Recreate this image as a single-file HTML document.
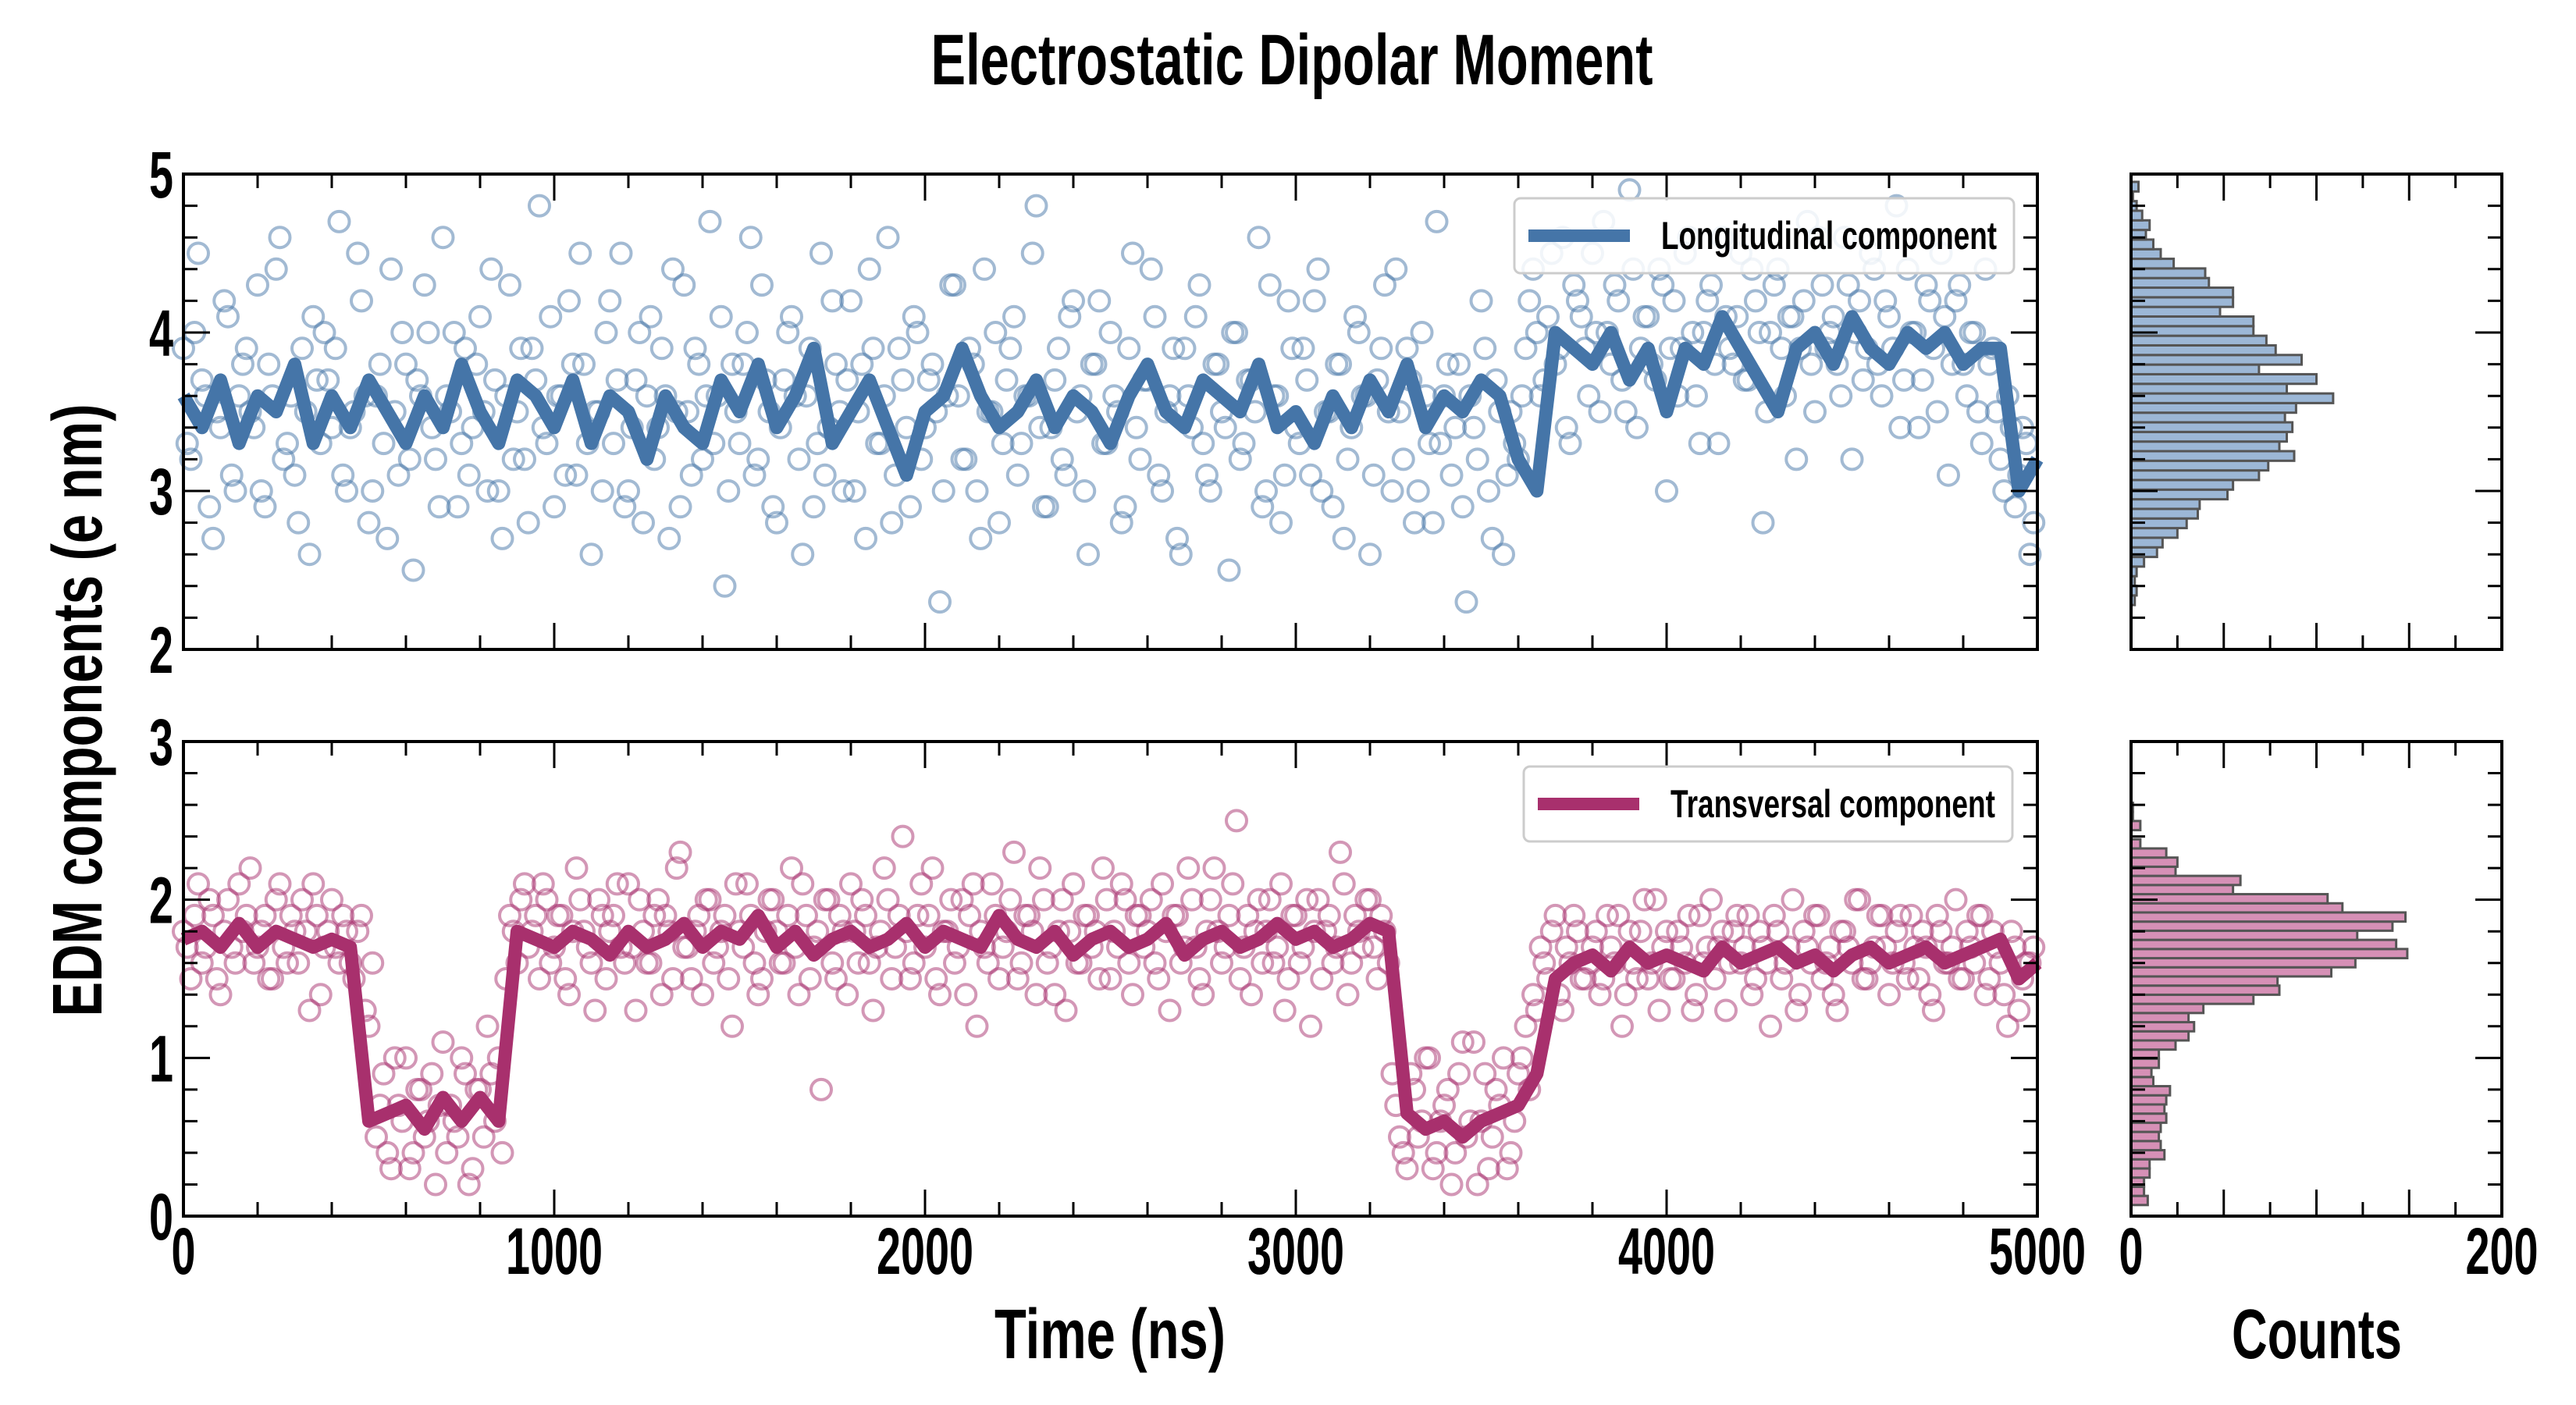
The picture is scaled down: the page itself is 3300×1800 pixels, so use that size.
<!DOCTYPE html>
<html><head><meta charset="utf-8"><style>
html,body{margin:0;padding:0;background:#fff;}
svg{display:block;font-family:"Liberation Sans Narrow","Liberation Sans",sans-serif;font-weight:bold;}
</style></head><body>
<svg id="chart" width="3300" height="1800" viewBox="0 0 3300 1800" xmlns="http://www.w3.org/2000/svg">
<text x="1655" y="108" text-anchor="middle" font-size="92" textLength="925" lengthAdjust="spacingAndGlyphs">Electrostatic Dipolar Moment</text>
<g id="plots"></g>
<text x="1422" y="1740" text-anchor="middle" font-size="90" textLength="296" lengthAdjust="spacingAndGlyphs">Time (ns)</text>
<text x="2968" y="1740" text-anchor="middle" font-size="90" textLength="218" lengthAdjust="spacingAndGlyphs">Counts</text>
<text transform="translate(130,910) rotate(-90)" text-anchor="middle" font-size="90" textLength="785" lengthAdjust="spacingAndGlyphs">EDM components (e nm)</text>
</svg>
<script>
// ---- data ----
const scatterStep = 20;
const scatterOffsetB = 10;
const longScatter = [3.9,3.2,4.5,3.6,2.7,3.4,4.1,3.0,3.8,3.5,4.3,2.9,3.6,4.6,3.3,3.1,3.9,2.6,3.7,4.0,3.4,4.7,3.0,3.5,4.2,2.8,3.6,3.3,4.4,3.1,3.8,2.5,3.6,4.0,3.2,4.6,3.5,2.9,3.9,3.4,4.1,3.0,3.7,2.7,4.3,3.5,3.2,3.9,4.8,3.3,2.9,3.6,4.2,3.1,3.8,2.6,3.5,4.0,3.3,4.5,3.0,3.7,2.8,4.1,3.4,3.6,4.4,2.9,3.5,3.9,3.2,4.7,3.6,2.4,3.8,3.3,4.0,3.1,4.3,3.5,2.8,3.7,4.1,3.2,3.6,2.9,4.5,3.4,3.8,3.0,4.2,3.5,2.7,3.9,3.3,4.6,3.1,3.7,2.9,4.0,3.4,3.8,2.3,3.6,4.3,3.2,3.9,3.0,4.4,3.5,2.8,3.7,4.1,3.3,3.6,4.8,2.9,3.4,3.9,3.1,4.2,3.6,2.6,3.8,3.3,4.0,3.5,2.9,4.5,3.2,3.7,4.1,3.0,3.6,2.7,3.9,3.4,4.3,3.1,3.8,3.5,2.5,4.0,3.3,3.7,4.6,3.0,3.6,2.8,4.2,3.4,3.9,3.1,4.4,3.5,2.9,3.8,3.2,4.1,3.6,2.6,3.7,4.3,3.0,3.5,3.9,2.8,4.0,3.3,4.7,3.6,3.1,3.8,2.3,3.4,4.2,3.0,3.7,2.6,3.5,3.2,3.9,4.4,3.6,4.1,3.8,4.6,3.3,4.2,3.9,4.5,3.5,4.0,4.3,3.7,4.9,3.4,4.1,3.8,4.4,3.0,4.2,3.9,4.6,3.6,4.0,4.3,3.3,4.1,3.8,4.5,3.7,4.2,2.8,4.0,4.4,3.6,4.1,3.9,4.7,3.5,4.3,4.0,3.8,4.6,3.2,4.2,3.9,4.4,3.6,4.1,4.8,3.7,4.0,3.4,4.3,3.9,4.5,3.1,4.2,3.8,4.0,3.5,4.4,3.9,3.2,3.6,2.9,3.4,2.6];
const longScatterB = [3.3,4.0,3.7,2.9,3.5,4.2,3.1,3.6,3.9,3.4,3.0,3.8,4.4,3.2,3.6,2.8,3.5,4.1,3.3,3.7,3.9,3.1,3.4,4.5,3.6,3.0,3.8,2.7,3.5,4.0,3.2,3.7,4.3,3.4,2.9,3.6,4.0,3.3,3.1,3.8,3.5,4.4,3.0,3.6,3.2,3.9,2.8,3.7,3.4,4.1,3.6,3.1,3.8,4.5,3.3,3.5,3.0,4.2,3.7,2.9,3.4,4.0,3.6,3.2,3.9,2.7,3.5,4.3,3.1,3.8,3.6,3.3,4.1,3.0,3.5,3.8,4.6,3.2,3.7,2.9,3.4,4.0,3.6,2.6,3.9,3.3,3.1,4.2,3.5,3.7,3.0,3.8,4.4,3.3,3.6,2.8,3.9,3.4,4.1,3.2,3.7,3.5,3.0,4.3,3.6,3.2,3.8,2.7,3.5,4.0,3.3,3.9,3.1,3.6,4.5,3.4,2.9,3.7,3.2,4.1,3.5,3.0,3.8,4.2,3.3,3.6,2.8,3.9,3.4,3.7,4.4,3.1,3.5,3.9,2.6,3.6,4.1,3.3,3.0,3.8,3.4,4.0,3.2,3.7,3.5,2.9,4.3,3.6,3.1,3.9,3.3,3.7,4.2,3.0,3.5,3.8,2.7,3.4,4.0,3.6,3.1,3.9,3.5,4.4,3.2,3.7,3.0,3.6,2.8,3.3,3.8,3.4,2.9,3.6,3.2,3.9,2.7,3.5,3.1,3.3,3.6,4.2,4.0,3.7,4.5,3.9,3.4,4.3,4.1,3.6,4.0,4.7,3.8,4.2,3.5,4.4,3.9,4.1,3.7,4.3,3.9,3.6,4.5,4.0,3.3,4.2,3.8,4.6,3.9,4.1,3.7,4.4,4.0,3.5,4.3,3.9,4.1,3.2,4.2,3.8,4.6,3.9,4.1,3.6,4.3,4.0,3.7,4.5,3.8,4.2,3.9,3.4,4.4,4.0,3.7,4.2,3.5,4.1,3.8,4.3,3.6,4.0,3.3,3.8,3.5,3.0,3.4,3.1,3.3,2.8];
const transScatter = [1.8,1.5,2.1,1.7,1.9,1.4,2.0,1.6,1.8,2.2,1.7,1.9,1.5,2.1,1.6,1.8,2.0,1.3,1.9,1.7,2.0,1.6,1.8,1.5,1.9,1.2,0.5,0.9,0.3,0.7,1.0,0.4,0.8,0.6,0.2,1.1,0.7,0.5,0.9,0.3,0.8,1.2,0.6,0.4,1.9,1.6,2.1,1.8,1.5,2.0,1.7,1.9,1.4,2.2,1.8,1.6,2.0,1.5,1.9,1.7,2.1,1.3,1.8,1.6,2.0,1.9,1.5,2.3,1.7,1.8,1.4,2.0,1.7,1.9,1.2,1.8,2.1,1.6,1.5,2.0,1.8,1.6,2.2,1.4,1.9,1.7,0.8,2.0,1.5,1.8,2.1,1.6,1.9,1.3,1.8,2.0,1.7,2.4,1.5,1.9,1.7,2.2,1.4,1.8,1.6,2.0,1.9,1.2,1.7,2.1,1.5,1.8,2.3,1.6,1.9,1.4,2.0,1.7,1.8,1.3,2.1,1.6,1.9,1.8,2.2,1.5,1.7,2.0,1.4,1.9,1.8,1.6,2.1,1.3,1.9,1.7,2.0,1.5,1.8,2.2,1.6,1.9,2.5,1.7,1.4,2.0,1.8,1.6,2.1,1.5,1.9,1.7,1.2,2.0,1.8,1.6,2.3,1.4,1.9,1.7,2.0,1.5,1.8,0.9,0.5,0.3,0.8,0.6,1.0,0.4,0.7,0.2,0.9,0.5,1.1,0.6,0.3,0.8,1.0,0.4,0.9,1.2,1.4,1.7,1.5,1.9,1.3,1.6,1.8,1.5,1.7,1.4,1.9,1.6,1.2,1.8,1.5,2.0,1.6,1.3,1.8,1.5,1.7,1.9,1.4,1.6,2.0,1.7,1.3,1.8,1.6,1.9,1.5,1.7,1.2,1.8,1.6,2.0,1.4,1.7,1.9,1.5,1.7,1.3,1.8,1.6,2.0,1.5,1.7,1.9,1.4,1.8,1.6,1.9,1.5,1.7,1.3,1.8,1.6,2.0,1.5,1.7,1.9,1.4,1.8,1.6,1.2,1.7,1.5,1.6];
const transScatterB = [1.7,1.9,1.6,2.0,1.5,1.8,1.7,2.1,1.9,1.6,1.8,1.5,2.0,1.7,1.9,1.6,1.8,2.1,1.4,1.8,1.7,1.9,1.6,1.8,1.3,1.6,0.7,0.4,1.0,0.6,0.3,0.8,0.5,0.9,0.7,0.4,0.6,1.0,0.2,0.8,0.5,0.9,1.0,1.5,1.8,2.0,1.7,1.9,2.1,1.6,1.9,1.5,1.8,2.0,1.7,1.3,1.9,1.8,2.1,1.6,1.7,2.0,1.6,1.9,1.4,1.8,2.2,1.7,1.5,1.9,2.0,1.6,1.8,1.5,2.1,1.7,1.9,1.4,1.8,2.0,1.6,1.9,1.7,2.1,1.5,1.8,2.0,1.6,1.9,1.4,1.8,2.0,1.6,1.7,2.2,1.5,1.9,1.8,1.6,2.1,1.9,1.5,1.8,2.0,1.7,1.4,2.1,1.8,1.6,1.9,1.7,2.0,1.5,1.9,1.8,2.2,1.6,1.4,2.0,1.8,1.6,1.9,1.7,1.5,2.0,1.8,2.1,1.6,1.9,1.7,2.0,1.5,1.8,1.9,1.6,2.2,1.7,1.4,2.0,1.8,1.7,2.1,1.5,1.9,1.8,1.6,2.0,1.7,1.3,1.9,1.6,2.0,1.8,1.5,1.9,1.7,2.1,1.6,1.8,2.0,1.7,1.9,1.6,0.7,0.4,0.9,0.5,1.0,0.3,0.6,0.8,0.4,1.1,0.6,0.2,0.9,0.5,0.7,0.3,0.6,1.0,0.8,1.3,1.6,1.8,1.4,1.7,1.9,1.5,1.6,1.8,1.5,1.7,1.9,1.4,1.6,1.8,1.5,2.0,1.7,1.5,1.8,1.6,1.3,1.9,1.7,1.5,1.8,1.6,1.9,1.7,1.4,1.8,1.6,1.9,1.5,1.7,1.3,1.8,1.6,1.9,1.6,1.4,1.8,1.7,2.0,1.5,1.6,1.9,1.7,1.6,1.9,1.5,1.7,1.8,1.4,1.9,1.6,1.7,1.5,1.8,1.6,1.9,1.5,1.7,1.4,1.8,1.3,1.6,1.7];
const lineStep = 50;
const longLine = [3.6,3.4,3.7,3.3,3.6,3.5,3.8,3.3,3.6,3.4,3.7,3.5,3.3,3.6,3.4,3.8,3.5,3.3,3.7,3.6,3.4,3.7,3.3,3.6,3.5,3.2,3.6,3.4,3.3,3.7,3.5,3.8,3.4,3.6,3.9,3.3,3.5,3.7,3.4,3.1,3.5,3.6,3.9,3.6,3.4,3.5,3.7,3.4,3.6,3.5,3.3,3.6,3.8,3.5,3.4,3.7,3.6,3.5,3.8,3.4,3.5,3.3,3.6,3.4,3.7,3.5,3.8,3.4,3.6,3.5,3.7,3.6,3.2,3.0,4.0,3.9,3.8,4.0,3.7,3.9,3.5,3.9,3.8,4.1,3.9,3.7,3.5,3.9,4.0,3.8,4.1,3.9,3.8,4.0,3.9,4.0,3.8,3.9,3.9,3.0,3.2];
const transLine = [1.75,1.8,1.7,1.85,1.7,1.8,1.75,1.7,1.75,1.7,0.6,0.65,0.7,0.55,0.75,0.6,0.75,0.6,1.8,1.75,1.7,1.8,1.75,1.65,1.8,1.7,1.75,1.85,1.7,1.8,1.75,1.9,1.7,1.8,1.65,1.75,1.8,1.7,1.75,1.85,1.7,1.8,1.75,1.7,1.9,1.75,1.7,1.8,1.65,1.75,1.8,1.7,1.75,1.85,1.65,1.75,1.8,1.7,1.75,1.85,1.75,1.8,1.7,1.75,1.85,1.8,0.65,0.55,0.6,0.5,0.6,0.65,0.7,0.9,1.5,1.6,1.65,1.55,1.7,1.6,1.65,1.6,1.55,1.7,1.6,1.65,1.7,1.6,1.65,1.55,1.65,1.7,1.6,1.65,1.7,1.6,1.65,1.7,1.75,1.5,1.6];
const longBinStart = 2.28, longBinWidth = 0.0607;
const longCounts = [2,3,2,3,7,14,17,25,30,36,37,52,55,69,74,88,80,84,87,83,89,109,84,100,69,92,78,73,66,66,48,55,55,42,40,23,16,12,8,10,6,3,1,4];
const transBinStart = 0.07, transBinWidth = 0.0578;
const transCounts = [9,7,7,10,10,18,16,15,16,19,18,19,21,12,11,15,15,24,31,34,31,39,66,80,79,108,121,149,143,122,141,148,114,106,55,59,24,25,19,5,0,5,1,1];
const xTicks = [0,1000,2000,3000,4000,5000];
const countTicks = [0,200];
const longYTicks = [2,3,4,5];
const transYTicks = [0,1,2,3];

// ---- layout ----
const NS = 'http://www.w3.org/2000/svg';
const root = document.getElementById('plots');
const MX0 = 235, MX1 = 2610, HX0 = 2730, HX1 = 3205;
const P1 = {y0: 223, y1: 832, vmin: 2, vmax: 5};
const P2 = {y0: 950, y1: 1558, vmin: 0, vmax: 3};
function el(tag, attrs, parent) { const e = document.createElementNS(NS, tag); for (const k in attrs) e.setAttribute(k, attrs[k]); (parent || root).appendChild(e); return e; }
const xScale = t => MX0 + (t / 5000) * (MX1 - MX0);
const cScale = c => HX0 + (c / 200) * (HX1 - HX0);
function yScale(P) { return v => P.y1 - (v - P.vmin) / (P.vmax - P.vmin) * (P.y1 - P.y0); }

function frame(x0, x1, P, xMinorStep, xMax, name) {
  const g = el('g', {});
  
  
  const ys = yScale(P);
  for (let v = P.vmin; v <= P.vmax + 1e-9; v += 0.2) {
    const major = Math.abs(v - Math.round(v)) < 1e-6;
    const L = major ? 34 : 18, y = ys(v);
    el('line', {x1: x0, x2: x0 + L, y1: y, y2: y, stroke: '#000', 'stroke-width': 3}, g);
    el('line', {x1: x1, x2: x1 - L, y1: y, y2: y, stroke: '#000', 'stroke-width': 3}, g);
  }
  for (let i = 0; i * xMinorStep <= xMax + 1e-9; i++) {
    const v = i * xMinorStep;
    const major = (x0 === MX0) ? (v % 1000 === 0) : (v % 50 === 0);
    const L = major ? 34 : 18;
    const x = x0 + v / xMax * (x1 - x0);
    el('line', {x1: x, x2: x, y1: P.y1, y2: P.y1 - L, stroke: '#000', 'stroke-width': 3}, g);
    el('line', {x1: x, x2: x, y1: P.y0, y2: P.y0 + L, stroke: '#000', 'stroke-width': 3}, g);
  }
  el('rect', {x: x0, y: P.y0, width: x1 - x0, height: P.y1 - P.y0, fill: 'none', stroke: '#000', 'stroke-width': 4}, g);
}

function scatter(P, scat, offset, color, name) {
  const ys = yScale(P);
  const g = el('g', {});
  
  
  scat.forEach((v, i) => {
    const c = el('circle', {cx: xScale(i * scatterStep + offset), cy: ys(v), r: 13, fill: 'none', stroke: color, 'stroke-width': 4, 'stroke-opacity': 0.5}, g);
    
    
  });
}
function line(P, vals, color, name) {
  const ys = yScale(P);
  const d = vals.map((v, i) => (i ? 'L' : 'M') + xScale(i * lineStep).toFixed(1) + ',' + ys(v).toFixed(1)).join('');
  const p = el('path', {d: d, fill: 'none', stroke: color, 'stroke-width': 17, 'stroke-linejoin': 'round'});
  
  
}

function hist(P, counts, start, w, fill, name) {
  const ys = yScale(P);
  const g = el('g', {});
  
  
  counts.forEach((c, i) => {
    const yTop = ys(start + (i + 1) * w), yBot = ys(start + i * w);
    const r = el('rect', {x: HX0, y: yTop, width: cScale(c) - HX0, height: yBot - yTop, fill: fill, stroke: '#555', 'stroke-width': 3}, g);
    
    
  });
}

function legend(x, y, w, h, color, label, name) {
  const g = el('g', {});
  
  
  el('rect', {x: x, y: y, width: w, height: h, rx: 8, fill: '#fff', 'fill-opacity': 0.85, stroke: '#ccc', 'stroke-width': 3}, g);
  el('line', {x1: x + 18, x2: x + 148, y1: y + h / 2, y2: y + h / 2, stroke: color, 'stroke-width': 16}, g);
  const t = el('text', {x: x + 188, y: y + h / 2 + 17, 'font-size': 50, textLength: w - 210, lengthAdjust: 'spacingAndGlyphs'}, g);
  t.textContent = label;
}

function label(x, y, v, anchor, name) {
  const s = String(v);
  const t = el('text', {x: x, y: y, 'text-anchor': anchor, 'font-size': 84, textLength: 31 * s.length, lengthAdjust: 'spacingAndGlyphs'});
  t.textContent = s;
  
  
}

const BLUE = '#4575a8', PURP = '#a8306d';
scatter(P1, longScatter, 0, BLUE, 'longitudinal');
scatter(P1, longScatterB, scatterOffsetB, BLUE, 'longitudinal-b');
scatter(P2, transScatter, 0, PURP, 'transversal');
scatter(P2, transScatterB, scatterOffsetB, PURP, 'transversal-b');
line(P1, longLine, BLUE, 'longitudinal');
line(P2, transLine, PURP, 'transversal');
hist(P1, longCounts, longBinStart, longBinWidth, '#9cb7d6', 'longitudinal');
hist(P2, transCounts, transBinStart, transBinWidth, '#d690b6', 'transversal');
frame(MX0, MX1, P1, 200, 5000, 'longitudinal');
frame(MX0, MX1, P2, 200, 5000, 'transversal');
frame(HX0, HX1, P1, 25, 200, 'longitudinal-hist');
frame(HX0, HX1, P2, 25, 200, 'transversal-hist');
legend(1940, 254, 640, 96, BLUE, 'Longitudinal component', 'longitudinal');
legend(1952, 982, 626, 96, PURP, 'Transversal component', 'transversal');
longYTicks.forEach(v => label(222, yScale(P1)(v) + 30, v, 'end', 'longitudinal-y-tick-label'));
transYTicks.forEach(v => label(222, yScale(P2)(v) + 30, v, 'end', 'transversal-y-tick-label'));
xTicks.forEach(v => label(xScale(v), 1632, v, 'middle', 'x-tick-label'));
countTicks.forEach(v => label(cScale(v), 1632, v, 'middle', 'count-tick-label'));
</script>
</body></html>
